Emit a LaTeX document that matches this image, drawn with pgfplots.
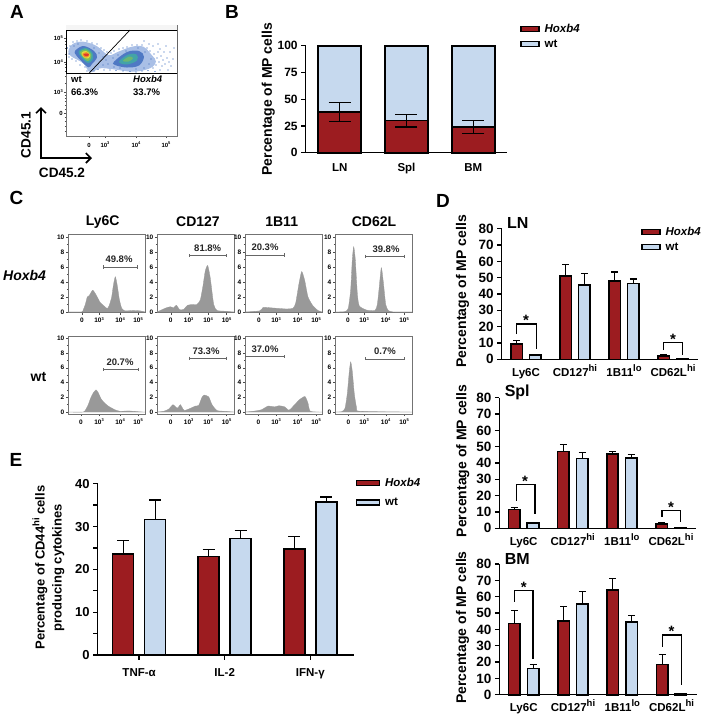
\documentclass[border=0pt]{standalone}
\usepackage{fontspec}
\setmainfont{Liberation Sans}
\usepackage{pgfplots}
\pgfplotsset{compat=1.18}
\usetikzlibrary{arrows.meta}
\definecolor{hox}{HTML}{9C1C20}
\definecolor{wtb}{HTML}{C6D9EE}
\definecolor{flow}{HTML}{999999}
\definecolor{dens1}{HTML}{A9BFE6}
\definecolor{dens2}{HTML}{4F79C4}
\definecolor{dens3}{HTML}{43A3A8}
\definecolor{dens4}{HTML}{7DBE5C}
\definecolor{dens5}{HTML}{E6DC3C}
\definecolor{dens6}{HTML}{F0902C}
\definecolor{dens7}{HTML}{E2382A}
\newcommand\fs[1]{\fontsize{#1}{#1}\selectfont\bfseries}
\newcommand\up[1]{\raisebox{0.42em}{\fontsize{9.5}{9.5}\selectfont #1}}
\newcommand\tp[1]{10\raisebox{0.4em}{\fontsize{4}{4}\selectfont #1}}
\pgfplotsset{
  swatch/.style={legend image code/.code={\draw[##1] (0pt,-2.5pt) rectangle (#1,2.5pt);}},
  prism/.style={
    scale only axis,
    axis lines=left,
    axis line style={-,line width=1.4pt,black},
    tick align=outside,
    major tick length=4.5pt,
    major tick style={line width=1.3pt,black},
    minor tick style={line width=1.3pt,black},
    minor tick length=4.5pt,
    /pgf/number format/assume math mode=true,
    clip=false,
    ymin=0,
    xtick style={draw=none},
    legend cell align=left,
  },
  errs/.style n args={2}{error bars/.cd,y dir=#1,y explicit,
    error bar style={line width=1.1pt,black},
    error mark options={line width=1.1pt,black,mark size=#2,rotate=90}},
  flowax/.style={
    scale only axis,
    clip=true,
    axis line style={line width=0.7pt,black!55},
    tick align=outside,
    major tick length=2pt,
    minor tick length=1.2pt,
    tick style={line width=0.4pt,black!70},
    /pgf/number format/assume math mode=true,
    tick label style={font=\fs{6.5},inner sep=1pt},
    xtick pos=bottom,
    ytick pos=left,
  },
  barleg/.style={legend style={draw=none,fill=none,at={(axis description cs:#1)},anchor=north west,
    inner sep=0pt,font=\fs{11.5},row sep=2pt,/tikz/column 1/.style={column sep=3pt}},legend cell align=left},
}
% histogram panel: left, bottom, height, ymin, ymax, xticks, curve, gate, label position
\newcommand\flowhist[9]{
\begin{axis}[flowax,at={(#1pt,-#2pt)},anchor=south west,width=77pt,height=#3pt,
  xmin=0,xmax=77,ymin=#4,ymax=#5,
  ytick={0,2,4,6,8,10},minor y tick num=1,
  xtick={#6},xticklabels={0,\tp{3},\tp{4},\tp{5}},
  x tick label style={anchor=base,yshift=-8pt},
  y tick label style={anchor=east,xshift=-0.5pt}]
\addplot[smooth,tension=0.35,fill=flow,draw=flow,line width=0.3pt] coordinates {#7} \closedcycle;
#8
\node[font=\fs{9.5},black!85,anchor=south] at (axis cs:#9) {\gatelabel};
\end{axis}}
\newcommand\gate[3]{\addplot[black!60,line width=0.7pt,mark=|,mark size=1.6pt,mark options={line width=0.7pt}] coordinates {(#1,#3)(#2,#3)};}
% bar panel of the right column: left, bottom, width, title, hoxb4, wt, brackets, ylabel centre
\newcommand\dpanel[8]{
\begin{axis}[prism,at={(#1pt,-#2pt)},anchor=south west,width=#3pt,height=130.6pt,
  ymax=80,ytick={0,10,...,80},
  xmin=0.504,xmax=4.51,xtick={1,2,3,4},
  xticklabels={Ly6C,CD127\up{hi},1B11\up{lo},CD62L\up{hi}},
  x tick label style={font=\fs{11.5},anchor=base,yshift=-12.5pt},
  y tick label style={font=\fs{13.5}},
  every axis y label/.style={at={(axis description cs:#8)},rotate=90,anchor=center,font=\fs{14}},
  ylabel={Percentage of MP cells},
  barleg={0.71,1.03}]
\addplot[ybar,bar width=11.5pt,bar shift=0pt,fill=hox,draw=black,line width=1.6pt,forget plot,errs={plus}{3.5pt}] coordinates {#5};
\addplot[ybar,bar width=11.5pt,bar shift=0pt,fill=wtb,draw=black,line width=1.6pt,forget plot,errs={plus}{3.5pt}] coordinates {#6};
#7
\node[font=\fs{16},anchor=west] at (axis description cs:0.01,1.04) {#4};
\end{axis}}
\newcommand\bracket[5]{\addplot[black,line width=1.3pt,forget plot] coordinates {(#1,#3)(#1,#4)(#2,#4)(#2,#5)};}
\newcommand\sig[2]{\node[font=\fs{15}] at (axis cs:#1,#2) {*};}
\begin{document}
\begin{tikzpicture}[x=1pt,y=1pt]
\useasboundingbox (0,0) rectangle (705,-716);

% panel letters
\node[font=\fs{19}] at (17,-12) {A};
\node[font=\fs{19}] at (232,-12) {B};
\node[font=\fs{19}] at (16.5,-198) {C};
\node[font=\fs{19}] at (443,-201) {D};
\node[font=\fs{19}] at (16,-460) {E};

% A: dot plot drawn as density contours
\begin{axis}[flowax,at={(66pt,-136pt)},anchor=south west,width=111pt,height=111pt,
  xmin=0,xmax=111,ymin=0,ymax=111,
  xtick={23,39,70,100},xticklabels={0,\tp{3},\tp{4},\tp{5}},
  ytick={23,44,74,98},yticklabels={0,\tp{3},\tp{4},\tp{5}},
  minor xtick={5,10,15,19,27,31,34,36,37,48,55,60,64,67,78,85,90,94,97},
  minor ytick={5,10,15,19,27,31,35,38,41,53,60,65,69,72,82,88,92,95},
  x tick label style={anchor=base,yshift=-9pt},
  tick label style={font=\fs{6}}]
\addplot[fill=black!4,draw=none] coordinates {(0,106)(111,106)(111,111)(0,111)} --cycle;
\addplot[smooth cycle,tension=0.6,fill=dens1,draw=none] coordinates {(2.3,84.3)(6.7,92)(17.3,94.3)(30.7,90)(42.3,81)(52.3,84.3)(65.7,89.3)(77.3,89.3)(85.7,81)(90,74.3)(84,67.7)(67.3,64.3)(47.3,66.7)(34,67.7)(24,63.7)(17.3,72.7)(5.7,79.3)};
\addplot[only marks,mark=*,mark size=0.4pt,color=dens2] coordinates {
(1.5,88)(4,90)(3,82)(7,94)(11,95)(15,96)(21,95)(26,93)(31,92)(35,88)(38,86)(41,84)(45,83)(48,85)(53,87)(57,88)(61,89)(66,91)(71,91)(76,91)(81,88)(84,85)(88,82)(91,78)(93,74)(90,71)(87,68)(82,65.5)(76,65)(70,64)(64,64.5)(57,65)(50,65.5)(44,66)(38,66)(32,66.5)(28,65)(21,65)(19,69)(14,71)(10,75)(6,77)(3,79)
(92,84)(95,80)(97,76)(99,72)(101,78)(103,74)(96,70)(94,87)(98,84)(105,70)(87,90)(83,92)(78,95)(92,92)(100,90)(104,84)(107,77)(108,88)(102,66)(94,66)(89,64.5)
(8,90)(12,92)(28,88)(33,83)(37,79)(40,76)(37,71)(42,72)(48,69)(54,68)(70,67)(78,68)(83,72)(85,77)(79,84)(72,88)(60,85)(52,81)(47,78)};
\addplot[smooth cycle,tension=0.6,fill=dens2,draw=none] coordinates {(9,85)(17.3,90)(28,85)(31,78.7)(26,72)(22.3,68.7)(15,75.3)(10,81)};
\addplot[smooth cycle,tension=0.6,fill=dens2,draw=none] coordinates {(48,74.3)(61,84)(73,85)(78,79.3)(73,70.5)(60.7,68.5)(49,71)};
\addplot[smooth cycle,tension=0.6,fill=dens3,draw=none] coordinates {(12.5,84.5)(20,88)(26.5,83)(26.5,76)(21.7,73)(16,78)};
\addplot[smooth cycle,tension=0.6,fill=dens3,draw=none] coordinates {(53,74.3)(62.3,81.5)(70.5,81.5)(71,75.5)(60.7,71.5)};
\addplot[smooth cycle,tension=0.6,fill=dens4,draw=none] coordinates {(14,83.8)(20,86.7)(25.3,82)(24.5,77)(21.3,75)(16.7,79)};
\addplot[smooth cycle,tension=0.6,fill=dens4!70!dens3,draw=none] coordinates {(57,75.3)(63.3,79.5)(67,77.7)(62.3,74.3)};
\addplot[smooth cycle,tension=0.6,fill=dens5,draw=none] coordinates {(15.5,83)(20,85)(24.2,81)(22,77.5)(17.5,79)};
\addplot[smooth cycle,tension=0.6,fill=dens6,draw=none] coordinates {(16.5,82.3)(20.7,83.8)(23.5,81)(20.7,78.5)(17.5,79.7)};
\addplot[smooth cycle,tension=0.6,fill=dens7,draw=none] coordinates {(17.5,81.7)(21.5,82.5)(23,81)(20,79.8)};
\addplot[black,line width=1pt] coordinates {(0,62.7)(111,62.7)(111,106)(0,106)(0,62.7)};
\addplot[black,line width=0.7pt] coordinates {(23,62.7)(64,106)};
\node[font=\fs{9.5},anchor=west,inner sep=0pt] at (axis cs:5,57) {wt};
\node[font=\fs{9.5},anchor=west,inner sep=0pt] at (axis cs:5,44) {66.3\%};
\node[font=\fs{9.5},anchor=west,inner sep=0pt] at (axis cs:67,57) {\itshape Hoxb4};
\node[font=\fs{9.5},anchor=west,inner sep=0pt] at (axis cs:67,44) {33.7\%};
\end{axis}
\draw[line width=1.6pt,{Straight Barb[length=5pt,width=10pt]}-{Straight Barb[length=5pt,width=10pt]}] (41,-107) -- (41,-158) -- (92,-158);
\node[font=\fs{13.6},rotate=90] at (26,-135) {CD45.1};
\node[font=\fs{13.6}] at (62,-173) {CD45.2};

% B: stacked percentages
\begin{axis}[prism,at={(305.7pt,-152.7pt)},anchor=south west,width=201.3pt,height=107pt,
  ymax=100,ytick={0,25,50,75,100},
  xmin=0,xmax=3.05,xtick={0.515,1.527,2.54},xticklabels={LN,Spl,BM},
  x tick label style={font=\fs{11.5},anchor=base,yshift=-14.5pt},
  y tick label style={font=\fs{12}},
  every axis y label/.style={at={(axis description cs:-0.186,0.5)},rotate=90,anchor=center,font=\fs{14}},
  ylabel={Percentage of MP cells},
  barleg={1.065,1.225}]
\addlegendimage{swatch=18pt,fill=hox,draw=black,line width=1.3pt}
\addlegendentry{\itshape Hoxb4}
\addlegendimage{swatch=18pt,fill=wtb,draw=black,line width=1.3pt}
\addlegendentry{wt}
% wt is the rest of the column up to 100
\addplot[ybar,bar width=43pt,bar shift=0pt,fill=wtb,draw=black,line width=1.6pt,forget plot] coordinates {(0.515,100)(1.527,100)(2.54,100)};
\addplot[ybar,bar width=43pt,bar shift=0pt,fill=hox,draw=black,line width=1.6pt,forget plot,errs={both}{11pt}] coordinates {(0.515,38) +- (0,9) (1.527,30) +- (0,6) (2.54,24) +- (0,6)};
\end{axis}

% C: column and row titles
\node[font=\fs{14}] at (102.7,-222) {Ly6C};
\node[font=\fs{14}] at (198,-222) {CD127};
\node[font=\fs{14}] at (281.7,-222) {1B11};
\node[font=\fs{14}] at (374,-222) {CD62L};
\node[font=\fs{14},anchor=west,inner sep=0pt] at (3,-275) {\itshape Hoxb4};
\node[font=\fs{14},anchor=east,inner sep=0pt] at (46.5,-377) {wt};

% C: histograms
\def\gatelabel{49.8\%}
\flowhist{68}{312.7}{78.7}{-0.1}{10.4}{14,31,52,70}{(0,0)(13.7,0)(15.3,0.3)(17.3,1)(19.3,2)(21.3,2.2)(24.7,2.9)(28,2.3)(32,1.3)(36,0.8)(39.3,0.45)(41.3,0.9)(43.7,2)(45.3,3.5)(47.3,4.7)(49.3,3.5)(51.3,1.7)(53.7,0.5)(57,0.15)(65,0.2)(72,0.15)(77,0)}{\gate{35.3}{69.7}{6}}{51,6.05}
\def\gatelabel{81.8\%}
\flowhist{157}{312.7}{78.7}{-0.1}{10.4}{13.7,31.7,51,69.5}{(0,0)(3.3,0.2)(8.3,0.5)(13.3,0.7)(16.7,0.55)(19.3,0.9)(22.7,0.3)(26.7,0.35)(30.7,0.9)(36,1)(40,1)(43.3,1.6)(46,3.5)(48.3,5.5)(50.7,6.2)(53.3,4.5)(56.7,1)(60,0.2)(68,0.1)(77,0)}{\gate{32}{69.7}{7.5}}{50.7,7.55}
\def\gatelabel{20.3\%}
\flowhist{245}{312.7}{78.7}{-0.1}{10.4}{14,31,52.7,71}{(0,0)(14.7,0.15)(18,0.6)(21.3,0.6)(41.3,0.4)(48,0.5)(50.7,1.2)(54,3.8)(56.7,5.4)(59.7,4.2)(63,2)(68,0.8)(73,0.2)(77,0)}{\gate{0.5}{39.7}{7.6}}{20,7.65}
\def\gatelabel{39.8\%}
\flowhist{335}{312.7}{78.7}{-0.1}{10.4}{13,29,50.7,69}{(0,0)(10,0.05)(13.3,0.5)(15.7,3)(17.3,7)(18.7,8.7)(20.3,7)(22.3,2.5)(24.3,0.8)(31.7,0.25)(40,0.2)(42.3,1)(44,3)(46.3,5.9)(48.3,4)(50.7,1)(53.3,0.2)(58.3,0)(77,0)}{\gate{30.7}{69.3}{7.45}}{51,7.5}
\def\gatelabel{20.7\%}
\flowhist{68}{414}{78}{-0.27}{10.3}{13,31,52,70}{(0,0)(15.3,0)(18,0.4)(20.3,1)(22.7,1.9)(25.3,2.6)(28,3)(30.3,2.6)(33,1.8)(36,1.3)(40.3,0.8)(47,0.3)(52,0.1)(60.3,0.15)(65,0.1)(75,0)(77,0)}{\gate{35.7}{70.3}{5.76}}{52,5.8}
\def\gatelabel{73.3\%}
\flowhist{157}{414}{78}{-0.27}{10.3}{13.7,31.7,51,69.5}{(0,0)(6.7,0.1)(11.7,0.4)(16,1)(19.3,0.6)(21,0.55)(23.3,1)(26,0.4)(27.3,0.2)(31.7,0.4)(38.3,0.8)(41.7,0.9)(45,2)(47.3,2.3)(51.7,2.05)(55,1)(60,0.2)(68,0.1)(77,0)}{\gate{32}{69.7}{7.3}}{49,7.35}
\def\gatelabel{37.0\%}
\flowhist{245}{414}{78}{-0.27}{10.3}{13.5,31,52.7,71}{(0,0)(8,0.1)(16.3,0.3)(23,0.8)(29.7,0.7)(34,0.85)(39.7,0.7)(44,0.25)(49.7,1)(54.7,1.7)(60,2.1)(63,1.2)(65.3,0.1)(77,0)}{\gate{0.5}{39.7}{7.5}}{20,7.55}
\def\gatelabel{0.7\%}
\flowhist{335}{414}{78}{-0.27}{10.3}{13.5,29,50.7,69}{(0,0)(6.7,0.05)(10,0.5)(12.3,2.5)(14.3,5.5)(15.7,6.8)(17.3,5.5)(19.3,2.5)(21.7,0.5)(25,0.1)(77,0)}{\gate{30.7}{69.3}{7.2}}{50,7.25}

% D: subsets per organ
\dpanel{501.7}{359.3}{196.3}{LN}
 {(0.81,9.5) +- (0,2) (1.81,51) +- (0,7) (2.81,48) +- (0,5.5) (3.81,2.2) +- (0,0.5)}
 {(1.19,2.5) +- (0,0.5) (2.19,45.5) +- (0,7) (3.19,46.5) +- (0,2.7) (4.19,0.2) +- (0,0)}
 {\bracket{0.805}{1.207}{15.5}{21.6}{6.3}\sig{1.0}{23.6}
  \bracket{3.81}{4.2}{5.7}{10.2}{2.6}\sig{4.0}{12.2}
  \addlegendimage{swatch=18pt,fill=hox,draw=black,line width=1.3pt}
  \addlegendentry{\itshape Hoxb4}
  \addlegendimage{swatch=18pt,fill=wtb,draw=black,line width=1.3pt}
  \addlegendentry{wt}}
 {-0.2,0.52}
\dpanel{499.3}{528.3}{196.7}{Spl}
 {(0.81,11.5) +- (0,1.3) (1.81,47) +- (0,4.2) (2.81,45.5) +- (0,1.5) (3.81,2.8) +- (0,0.7)}
 {(1.19,3.3) +- (0,0.3) (2.19,42.8) +- (0,3.8) (3.19,43) +- (0,2.2) (4.19,0.2) +- (0,0)}
 {\bracket{0.85}{1.23}{17}{27}{9}\sig{1.03}{29}
  \bracket{3.82}{4.2}{7}{11}{4}\sig{4.0}{13}}
 {-0.186,0.515}
\dpanel{499.3}{694.7}{197.4}{BM}
 {(0.81,43.7) +- (0,8) (1.81,45) +- (0,9) (2.81,64.3) +- (0,6.7) (3.81,18.5) +- (0,6)}
 {(1.19,16) +- (0,2.7) (2.19,55.5) +- (0,7.5) (3.19,44.5) +- (0,4) (4.19,0.4) +- (0,0)}
 {\bracket{0.81}{1.19}{57}{63.9}{21.6}\sig{1.0}{66}
  \bracket{3.82}{4.2}{29.4}{36.5}{6}\sig{4.0}{38.7}}
 {-0.186,0.515}

% E: cytokines
\begin{axis}[prism,at={(97.7pt,-655pt)},anchor=south west,width=256.6pt,height=171.3pt,
  ymax=40,ytick={0,10,20,30,40},minor y tick num=1,
  xmin=0.516,xmax=3.514,xtick={1,2,3},xticklabels={TNF-α,IL-2,IFN-γ},
  xtick style={draw=black,line width=1.3pt},
  x tick label style={font=\fs{11.5},anchor=base,yshift=-17pt},
  y tick label style={font=\fs{13}},
  every axis y label/.style={at={(axis description cs:-0.192,0.51)},rotate=90,anchor=center,align=center,font=\fontsize{13}{17}\selectfont\bfseries},
  ylabel={Percentage of CD44\up{hi} cells\\producing cytokines},
  barleg={1.005,1.045},legend style={row sep=6pt}]
\addlegendimage{swatch=23pt,fill=hox,draw=black,line width=1.3pt}
\addlegendentry{\itshape Hoxb4}
\addlegendimage{swatch=23pt,fill=wtb,draw=black,line width=1.3pt}
\addlegendentry{wt}
\addplot[ybar,bar width=21pt,bar shift=0pt,fill=hox,draw=black,line width=1.6pt,forget plot,errs={plus}{6pt}] coordinates {(0.813,23.6) +- (0,3.1) (1.813,23) +- (0,1.7) (2.813,24.7) +- (0,2.9)};
\addplot[ybar,bar width=21pt,bar shift=0pt,fill=wtb,draw=black,line width=1.6pt,forget plot,errs={plus}{6pt}] coordinates {(1.187,31.6) +- (0,4.6) (2.187,27.2) +- (0,1.9) (3.187,35.7) +- (0,1.2)};
\end{axis}
\end{tikzpicture}
\end{document}
